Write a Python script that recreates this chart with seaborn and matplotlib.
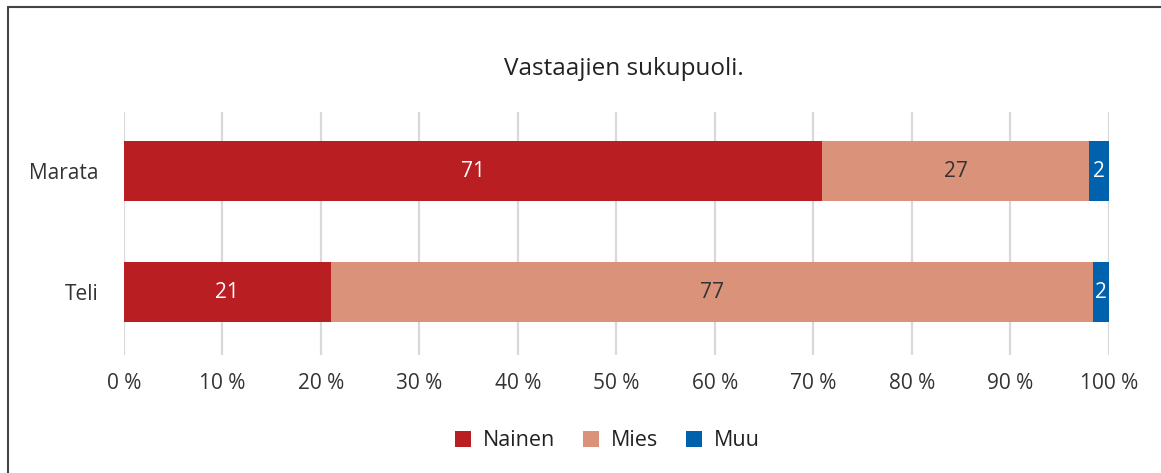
import pandas as pd
import matplotlib.pyplot as plt
import seaborn as sns
from matplotlib.lines import Line2D
from matplotlib.patches import Patch

# data (percent of respondents)
groups = ['Marata', 'Teli']
nainen = [70.9, 21.0]
mies = [27.1, 77.4]
muu = [2.0, 1.6]
series_names = ['Nainen', 'Mies', 'Muu']
colors = ['#B81E22', '#DA927A', '#0062AD']
ticks = [0, 10, 20, 30, 40, 50, 60, 70, 80, 90, 100]

sns.set_theme(style='white')
plt.rcParams['font.family'] = ['Open Sans', 'DejaVu Sans']

df = pd.DataFrame({'Group': groups, 'Nainen': nainen, 'Mies': mies, 'Muu': muu})
df['c1'] = df['Nainen']
df['c2'] = df['Nainen'] + df['Mies']
df['c3'] = df['c2'] + df['Muu']

fig = plt.figure(figsize=(11.61, 4.73), dpi=100)
ax = fig.add_axes([0.1068, 0.2495, 0.9552 - 0.1068, 0.7632 - 0.2495])

# stacked bars: draw cumulative totals from back to front
for col, color in zip(['c3', 'c2', 'c1'], colors[::-1]):
    sns.barplot(data=df, x=col, y='Group', color=color, width=0.5,
                saturation=1, linewidth=0, ax=ax, zorder=3)

ax.set_xlim(0, 100)
ax.set_ylim(1.52, -0.49)
ax.set_xticks(ticks)
ax.set_xticklabels([f'{t} %' for t in ticks])
ax.grid(axis='x', color='#D9D9D9', linewidth=1.6, zorder=0)
ax.set_axisbelow(True)
ax.set_xlabel('')
ax.set_ylabel('')
sns.despine(ax=ax, left=True, bottom=True)
ax.tick_params(axis='x', length=0, pad=13, labelsize=15, labelcolor='#333333')
ax.tick_params(axis='y', length=0, pad=18, labelsize=15, labelcolor='#333333')

# value labels
starts = [[0] * len(groups), list(df['c1']), list(df['c2'])]
vals = [nainen, mies, muu]
text_colors = ['white', '#333333', 'white']
for s, v, tc in zip(starts, vals, text_colors):
    for i in range(len(groups)):
        ax.text(s[i] + v[i] / 2, i, f'{round(v[i])}', ha='center', va='center',
                fontsize=15, color=tc, zorder=5)

fig.text(0.537, 0.855, 'Vastaajien sukupuoli.', ha='center', va='center',
         fontsize=17.5, color='#222222')

handles = [Patch(facecolor=c, edgecolor='none') for c in colors]
fig.legend(handles, series_names, loc='center', bbox_to_anchor=(0.523, 0.068),
           ncol=3, frameon=False, fontsize=15.5, handlelength=0.75, handleheight=0.75,
           handletextpad=0.55, columnspacing=1.3, labelcolor='#222222')

# partial frame (top and left edges)
fig.add_artist(Line2D([0.0065, 1.0], [0.985, 0.985], color='#444444', linewidth=1.5,
                      transform=fig.transFigure))
fig.add_artist(Line2D([0.0065, 0.0065], [0.0, 0.985], color='#444444', linewidth=1.5,
                      transform=fig.transFigure))

fig.savefig('out.png', dpi=100)
